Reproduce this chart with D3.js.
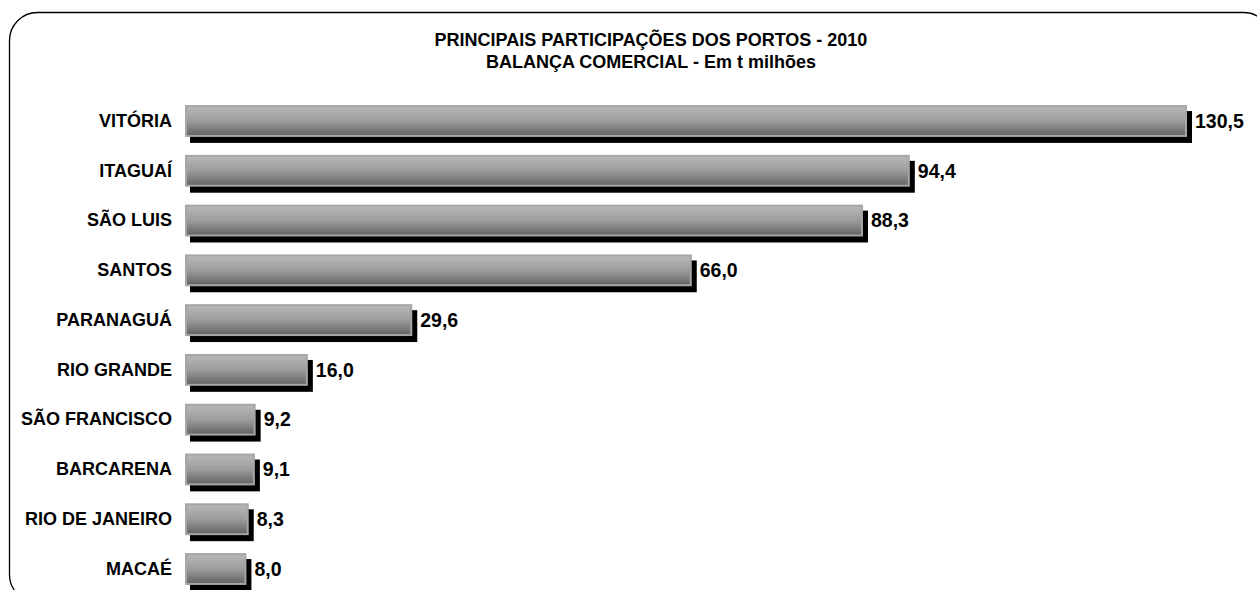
<!DOCTYPE html>
<html lang="pt">
  <head>
    <meta charset="utf-8">
    <title>Principais participações dos portos - 2010</title>
    <script src="https://cdn.jsdelivr.net/npm/d3@7"></script>
    <style>
      body { margin: 0; background: #fff; }
      svg { display: block; font-family: "Liberation Sans", Arial, sans-serif; }
    </style>
  </head>
  <body>
    <div id="chart"></div>
    <script>
      // dados
      var portos = ["VITÓRIA", "ITAGUAÍ", "SÃO LUIS", "SANTOS", "PARANAGUÁ", "RIO GRANDE",
                    "SÃO FRANCISCO", "BARCARENA", "RIO DE JANEIRO", "MACAÉ"];
      var valores = [130.5, 94.4, 88.3, 66.0, 29.6, 16.0, 9.2, 9.1, 8.3, 8.0];
      var titulo = ["PRINCIPAIS PARTICIPAÇÕES DOS PORTOS - 2010", "BALANÇA COMERCIAL - Em t milhões"];

      var width = 1257, height = 590;

      var svg = d3.select("#chart").append("svg")
          .attr("width", width)
          .attr("height", height);

      var defs = svg.append("defs");
      var grad = defs.append("linearGradient")
          .attr("id", "barra")
          .attr("x1", 0).attr("y1", 0).attr("x2", 0).attr("y2", 1);
      grad.append("stop").attr("offset", "0%").attr("stop-color", "#b8b8b8");
      grad.append("stop").attr("offset", "50%").attr("stop-color", "#9c9c9c");
      grad.append("stop").attr("offset", "100%").attr("stop-color", "#626262");

      // moldura arredondada
      svg.append("rect")
          .attr("x", 9.5).attr("y", 12.5)
          .attr("width", 1262).attr("height", 590)
          .attr("rx", 28).attr("ry", 28)
          .attr("fill", "none")
          .attr("stroke", "#000")
          .attr("stroke-width", 1.3);

      svg.append("text")
          .attr("x", 651).attr("y", 0)
          .attr("text-anchor", "middle")
          .attr("font-size", 18)
          .attr("font-weight", "bold")
          .selectAll("tspan")
          .data(titulo)
          .enter()
          .append("tspan")
            .attr("x", 651)
            .attr("y", function(d, i) { return 46 + i * 22; })
            .text(function(d) { return d; });

      var data = portos.map(function(p, i) { return {porto: p, valor: valores[i]}; });

      var x = d3.scaleLinear()
          .domain([0, 130.5])
          .range([185, 1187]);

      var y = d3.scaleBand()
          .domain(portos)
          .range([96.1, 593.9])
          .paddingInner(0.36)
          .paddingOuter(0.18);

      // eixo de categorias (sem linha)
      var eixo = svg.append("g")
          .attr("transform", "translate(" + x(0) + ",0)")
          .call(d3.axisLeft(y).tickSize(0).tickPadding(13));
      eixo.select(".domain").remove();
      eixo.selectAll("text")
          .attr("font-size", 18)
          .attr("font-weight", "bold")
          .attr("font-family", "'Liberation Sans', Arial, sans-serif")
          .attr("fill", "#000");

      var linhas = svg.selectAll(".barra")
          .data(data)
          .enter()
          .append("g")
          .attr("class", "barra");

      // sombra
      linhas.append("rect")
          .attr("x", function(d) { return x(0) + 5; })
          .attr("y", function(d) { return y(d.porto) + 6; })
          .attr("width", function(d) { return x(d.valor) - x(0); })
          .attr("height", y.bandwidth())
          .attr("fill", "#000");

      linhas.append("rect")
          .attr("x", function(d) { return x(0) + 1; })
          .attr("y", function(d) { return y(d.porto) + 1; })
          .attr("width", function(d) { return x(d.valor) - x(0) - 2; })
          .attr("height", y.bandwidth() - 2)
          .attr("fill", "url(#barra)")
          .attr("stroke", "#a6a6a6")
          .attr("stroke-width", 2);

      linhas.append("text")
          .attr("x", function(d) { return x(d.valor) + 8; })
          .attr("y", function(d) { return y(d.porto) + y.bandwidth() / 2; })
          .attr("dy", "0.35em")
          .attr("font-size", 19.5)
          .attr("font-weight", "bold")
          .text(function(d) { return d3.format(".1f")(d.valor).replace(".", ","); });
    </script>
  </body>
</html>
